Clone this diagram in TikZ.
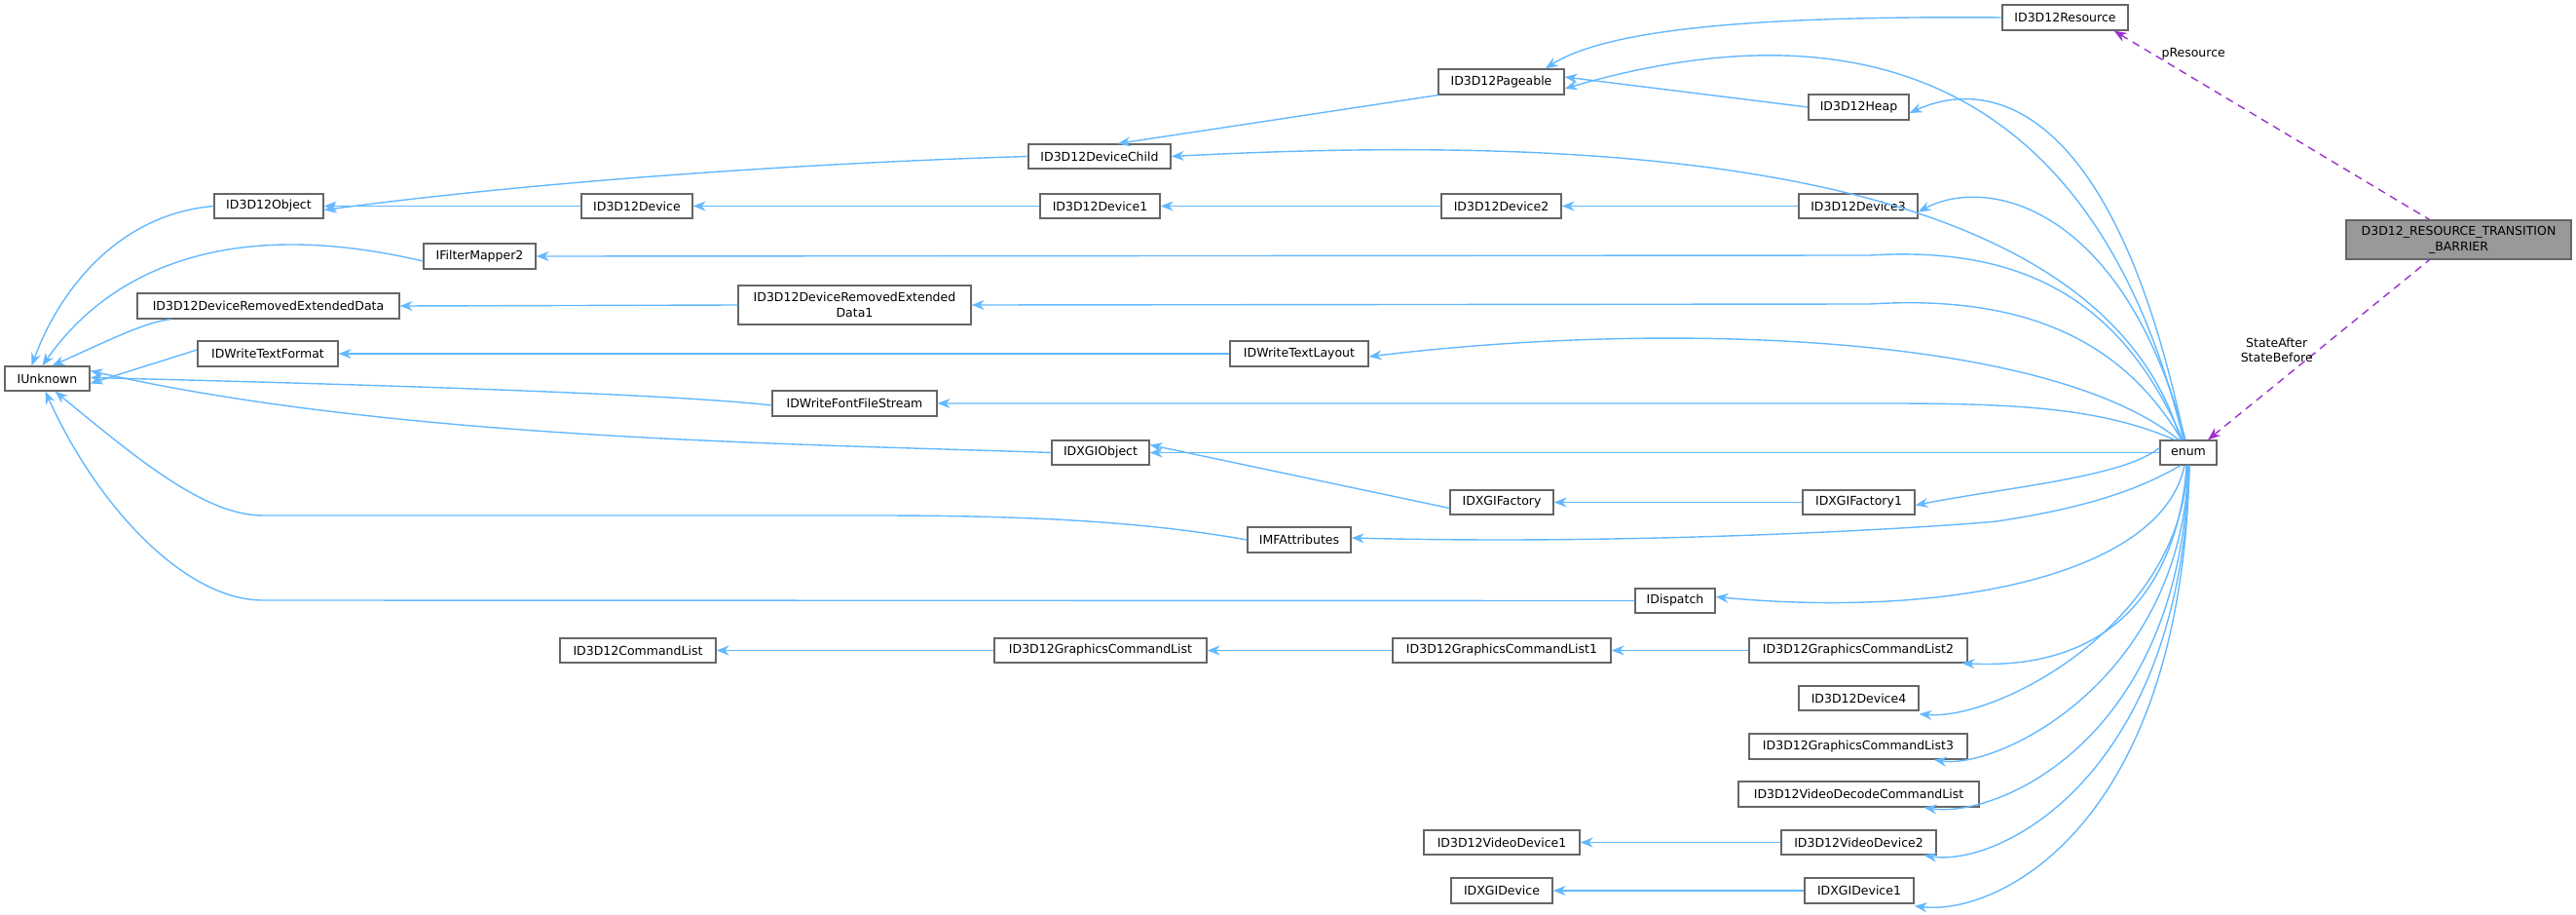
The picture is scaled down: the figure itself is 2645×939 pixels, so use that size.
\documentclass[tikz,border=0pt]{standalone}
\usepackage{fontspec}
\setmainfont{DejaVu Sans}
\usetikzlibrary{arrows.meta}
\definecolor{inhc}{HTML}{63B8FF}
\definecolor{usec}{HTML}{9A32CD}
\definecolor{boxc}{HTML}{666666}
\newcommand\bx[7][white]{%
  \node[box,fill=#1,minimum width={#4-#3},minimum height={#6-#5}] (#2) at ({(#3+#4)/2},{(#5+#6)/2}) {#7};}
\begin{document}
\begin{tikzpicture}[x=1pt,y=-1pt,
  box/.style={draw=boxc,line width=1.3pt,inner sep=0pt,align=center,font=\fontsize{12.5}{16}\selectfont},
  inh/.style={draw=inhc,line width=1.4pt,{Stealth[length=13pt,width=10pt]}-},
  use/.style={draw=usec,line width=1.4pt,dash pattern=on 8pt off 6pt,{Stealth[length=13pt,width=10pt]}-},
  lbl/.style={font=\fontsize{12.5}{15}\selectfont,align=center}]
\useasboundingbox (0,0) rectangle (2645,939);
% nodes
\bx{iunk}{5}{92}{376}{401}{IUnknown}
\bx{obj}{220}{332}{199}{224}{ID3D12Object}
\bx{dev}{597}{711}{199}{224}{ID3D12Device}
\bx{ifm}{435}{550}{250}{276}{IFilterMapper2}
\bx{dred}{141}{410}{301}{327}{ID3D12DeviceRemovedExtendedData}
\bx{dred1}{758}{997}{293}{333}{ID3D12DeviceRemovedExtended\\Data1}
\bx{tf}{203}{347}{350}{376}{IDWriteTextFormat}
\bx{ffs}{793}{962}{401}{427}{IDWriteFontFileStream}
\bx{child}{1056}{1202}{148}{173}{ID3D12DeviceChild}
\bx{res}{2056}{2185}{5}{31}{ID3D12Resource}
\bx{page}{1477}{1606}{71}{97}{ID3D12Pageable}
\bx{heap}{1857}{1960}{97}{123}{ID3D12Heap}
\bx{dev1}{1068}{1191}{199}{224}{ID3D12Device1}
\bx{dev2}{1480}{1603}{199}{224}{ID3D12Device2}
\bx{dev3}{1847}{1969}{199}{224}{ID3D12Device3}
\bx[gray!80]{bar}{2409}{2640}{226}{266}{D3D12\_RESOURCE\_TRANSITION\\\_BARRIER}
\bx{tl}{1263}{1405}{350}{376}{IDWriteTextLayout}
\bx{dxo}{1080}{1180}{452}{477}{IDXGIObject}
\bx{enum}{2218}{2276}{452}{477}{enum}
\bx{imf}{1281}{1387}{541}{567}{IMFAttributes}
\bx{fac}{1489}{1595}{503}{528}{IDXGIFactory}
\bx{fac1}{1851}{1966}{503}{528}{IDXGIFactory1}
\bx{disp}{1679}{1761}{604}{629}{IDispatch}
\bx{cl}{575}{735}{655}{680}{ID3D12CommandList}
\bx{gcl}{1021}{1239}{655}{680}{ID3D12GraphicsCommandList}
\bx{gcl1}{1430}{1654}{655}{680}{ID3D12GraphicsCommandList1}
\bx{gcl2}{1796}{2020}{655}{680}{ID3D12GraphicsCommandList2}
\bx{dev4}{1847}{1970}{704}{729}{ID3D12Device4}
\bx{gcl3}{1796}{2020}{753}{779}{ID3D12GraphicsCommandList3}
\bx{vdcl}{1785}{2032}{802}{828}{ID3D12VideoDecodeCommandList}
\bx{vd1}{1462}{1622}{852}{877}{ID3D12VideoDevice1}
\bx{vd2}{1829}{1988}{852}{877}{ID3D12VideoDevice2}
\bx{dxd}{1490}{1594}{901}{927}{IDXGIDevice}
\bx{dxd1}{1853}{1965}{901}{927}{IDXGIDevice1}
% IUnknown edges
\draw[inh] ([xshift=-16pt]iunk.north) .. controls (60,300) and (120,220) .. (obj.west);
\draw[inh] ([xshift=-5pt]iunk.north) .. controls (110,280) and (230,220) .. ([yshift=-5pt]ifm.west);
\draw[inh] ([xshift=5pt]iunk.north) .. controls (110,350) and (150,330) .. ([xshift=-100pt]dred.south);
\draw[inh] ([yshift=-5pt]iunk.east) -- ([yshift=4pt]tf.west);
\draw[inh] ([yshift=1pt]iunk.east) .. controls (400,395) and (700,405) .. ([yshift=-2pt]ffs.west);
\draw[inh] ([yshift=8pt]iunk.east) .. controls (400,450) and (800,455) .. (dxo.west);
\draw[inh] ([xshift=8pt]iunk.south) .. controls (140,470) and (210,529) .. (270,529) -- (900,529) .. controls (1100,529) and (1200,540) .. (imf.west);
\draw[inh] ([xshift=-2pt]iunk.south) .. controls (100,520) and (190,616) .. (270,616) -- (disp.west);
% other inheritance
\draw[inh] ([yshift=-4pt]obj.east) .. controls (600,180) and (900,165) .. (child.west);
\draw[inh] (obj.east) -- (dev.west);
\draw[inh] (dev.east) -- (dev1.west);
\draw[inh] (dev1.east) -- (dev2.west);
\draw[inh] (dev2.east) -- (dev3.west);
\draw[inh] ([xshift=-55pt]child.north east) -- (page.south west);
\draw[inh] ([xshift=-20pt]page.north east) .. controls (1650,30) and (1800,16) .. (res.west);
\draw[inh] ([yshift=5pt]page.east) -- (heap.west);
\draw[inh] (dred.east) -- (dred1.west);
\draw[inh] (tf.east) -- (tl.west);
\draw[inh] ([yshift=8pt]dxo.east) -- ([yshift=-6pt]fac.west);
\draw[inh] (fac.east) -- (fac1.west);
\draw[inh] (cl.east) -- (gcl.west);
\draw[inh] (gcl.east) -- (gcl1.west);
\draw[inh] (gcl1.east) -- (gcl2.west);
\draw[inh] (vd1.east) -- (vd2.west);
\draw[inh] (dxd.east) -- (dxd1.west);
% enum edges (upward)
\draw[inh] ([yshift=-7pt]page.east) .. controls (1850,20) and (2140,30) .. ([xshift=-5pt]enum.north);
\draw[inh] ([yshift=-6pt]heap.east) .. controls (2040,80) and (2170,100) .. ([xshift=-4pt]enum.north);
\draw[inh] (child.east) .. controls (1600,140) and (2150,150) .. ([xshift=-8pt]enum.north);
\draw[inh] ([yshift=-6pt]dev3.east) .. controls (2040,180) and (2180,210) .. ([xshift=-3pt]enum.north);
\draw[inh] (ifm.east) -- (1920,262) .. controls (2080,252) and (2180,310) .. ([xshift=-6pt]enum.north);
\draw[inh] (dred1.east) -- (1920,312) .. controls (2080,302) and (2180,350) .. ([xshift=-7pt]enum.north);
\draw[inh] ([yshift=-3pt]tl.east) .. controls (1700,330) and (2100,340) .. ([xshift=-10pt]enum.north);
\draw[inh] (ffs.east) -- (1940,414) .. controls (2080,414) and (2160,420) .. ([xshift=-14pt]enum.north);
\draw[inh] (dxo.east) -- (enum.west);
% enum edges (downward)
\draw[inh] ([yshift=-3pt]fac1.east) .. controls (2060,500) and (2180,490) .. ([yshift=5pt]enum.west);
\draw[inh] ([yshift=2pt]imf.east) .. controls (1700,560) and (2000,540) .. (2050,535) .. controls (2150,520) and (2200,500) .. ([xshift=-8pt]enum.south);
\draw[inh] ([yshift=4pt]disp.east) .. controls (2000,635) and (2220,590) .. ([xshift=-4pt]enum.south);
\draw[inh] ([xshift=-6pt]gcl2.south east) .. controls (2200,690) and (2240,560) .. ([xshift=-2pt]enum.south);
\draw[inh] ([yshift=-3pt]dev4.south east) .. controls (2050,740) and (2240,640) .. ([xshift=-1pt]enum.south);
\draw[inh] ([xshift=-35pt]gcl3.south east) .. controls (2050,790) and (2240,700) .. (enum.south);
\draw[inh] ([xshift=-57pt]vdcl.south east) .. controls (2050,840) and (2240,760) .. (enum.south);
\draw[inh] ([xshift=-13pt]vd2.south east) .. controls (2050,890) and (2240,800) .. ([xshift=1pt]enum.south);
\draw[inh] ([yshift=-2pt]dxd1.south east) .. controls (2050,940) and (2240,850) .. ([xshift=1pt]enum.south);
% usage edges
\draw[use] ([xshift=-15pt]res.south east) -- node[lbl,pos=0.12,right=6pt]{pResource} ([xshift=-30pt]bar.north);
\draw[use] ([xshift=20pt]enum.north) -- node[lbl,pos=0.5,left=2pt]{StateAfter\\StateBefore} ([xshift=-30pt]bar.south);
\end{tikzpicture}
\end{document}
